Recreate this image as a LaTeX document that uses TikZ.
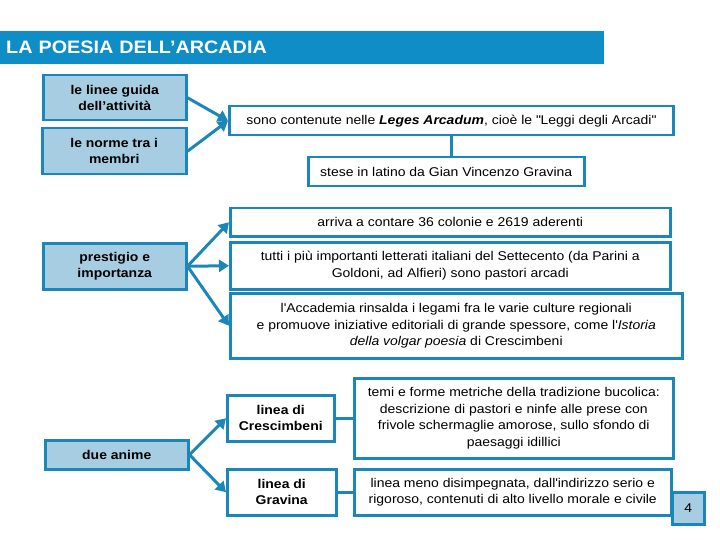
\documentclass[tikz,border=0pt]{standalone}
\usepackage{fontspec}
\setmainfont{Liberation Sans}[FakeStretch=1.1]
\usetikzlibrary{positioning,arrows.meta}
\definecolor{arcblue}{RGB}{27,135,185}
\definecolor{arclight}{RGB}{166,205,226}
\definecolor{titleblue}{RGB}{14,141,198}

\begin{document}
\begin{tikzpicture}[x=1pt, y=-1pt,
    titlenode/.style={fill=titleblue, text=white, font=\bfseries\fontsize{18}{20}\selectfont, anchor=north west, inner sep=0pt, inner xsep=6pt, text width=592pt, align=left, minimum height=33pt},
    keybox/.style={draw=arcblue, fill=arclight, line width=2.5pt, font=\bfseries\fontsize{12.7}{16}\selectfont, align=center, inner sep=0pt, anchor=north west},
    whitekey/.style={keybox, fill=white},
    textbox/.style={draw=arcblue, fill=white, line width=2.5pt, font=\fontsize{12.7}{16.5}\selectfont, align=center, inner sep=0pt, anchor=north west},
    box size/.style 2 args={minimum width=#1pt, minimum height=#2pt},
    link/.style={draw=arcblue, line width=3pt, -{Triangle[length=10pt,width=12pt]}},
    joint/.style={draw=arcblue, line width=3pt}
    ]
    \useasboundingbox (0,0) rectangle (720,540);

    %Title
    \node[titlenode]    (title)         at (0,31)       {LA POESIA DELL’ARCADIA};

    %Left nodes
    \node[keybox, box size={143}{45}]   (left_guide)    at (42,74)      {le linee guida\\dell’attività};
    \node[keybox, box size={144}{46}]   (left_rules)    at (41,127)     {le norme tra i\\membri};
    \node[keybox, box size={143}{46}]   (prestige)      at (42,242)     {prestigio e\\importanza};
    \node[keybox, box size={143}{29}]   (two_souls)     at (44,439)     {due anime};

    %Right nodes
    \node[textbox, box size={444}{29}]  (leges)         at (228,105)    {sono contenute nelle \textbf{\textit{Leges Arcadum}}, cioè le \textquotedbl Leggi degli Arcadi\textquotedbl};
    \node[textbox, box size={276}{29}]  (latin)         at (307,156)    {stese in latino da Gian Vincenzo Gravina};
    \node[textbox, box size={440}{28}]  (colonies)      at (229,207)    {arriva a contare 36 colonie e 2619 aderenti};
    \node[textbox, box size={440}{47}]  (writers)       at (229,241)    {tutti i più importanti letterati italiani del Settecento (da Parini a\\Goldoni, ad Alfieri) sono pastori arcadi};
    \node[textbox, box size={452}{65}]  (academy)       at (229,292)    {l\textquotesingle Accademia rinsalda i legami fra le varie culture regionali\\e promuove iniziative editoriali di grande spessore, come l\textquotesingle\textit{Istoria}\\\textit{della volgar poesia} di Crescimbeni};

    %Two lines
    \node[whitekey, box size={107}{46}] (line_cresc)    at (226,394)    {linea di\\Crescimbeni};
    \node[whitekey, box size={109}{46}] (line_grav)     at (226,468)    {linea di\\Gravina};
    \node[textbox, box size={319}{80}]  (cresc_text)    at (353,377)    {temi e forme metriche della tradizione bucolica:\\descrizione di pastori e ninfe alle prese con\\frivole schermaglie amorose, sullo sfondo di\\paesaggi idillici};
    \node[textbox, box size={317}{46}]  (grav_text)     at (353,468)    {linea meno disimpegnata, dall\textquotesingle indirizzo serio e\\rigoroso, contenuti di alto livello morale e civile};

    %Page number
    \node[keybox, box size={32}{32}, font=\fontsize{12.7}{14}\selectfont] (page_num) at (671,491) {4};

    %Lines
    \draw[link]     (left_guide.east) -- (leges.west);
    \draw[link]     (left_rules.east) -- (leges.west);
    \draw[joint]    (leges.south) -- (leges.south |- latin.north);

    \draw[link]     (prestige.east) -- (colonies.west);
    \draw[link]     (prestige.east) -- (writers.west);
    \draw[link]     (prestige.east) -- (academy.west);

    \draw[link]     (two_souls.east) -- (line_cresc.west);
    \draw[link]     (two_souls.east) -- (line_grav.west);
    \draw[joint]    (line_cresc) -- (cresc_text);
    \draw[joint]    (line_grav) -- (grav_text);

\end{tikzpicture}
\end{document}
